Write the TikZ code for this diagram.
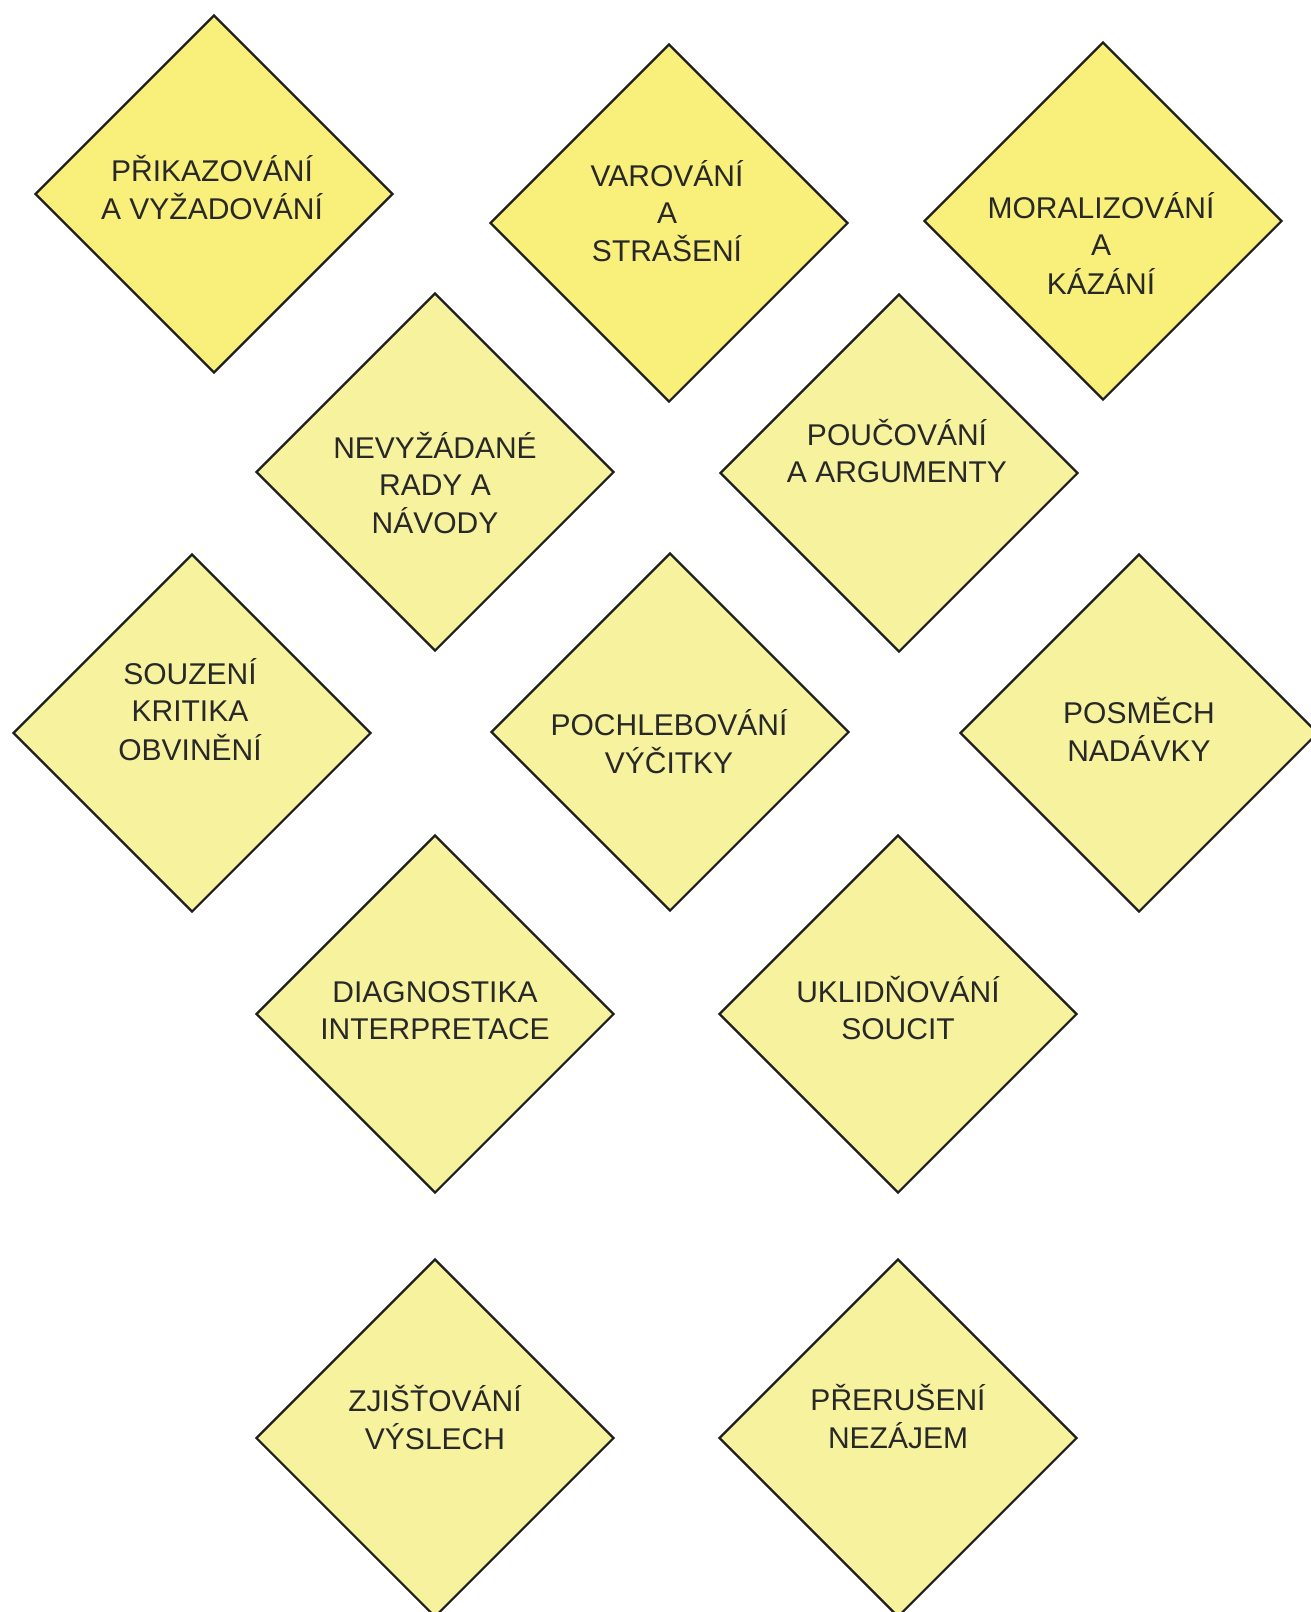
\documentclass[tikz,border=0pt]{standalone}
\usepackage{fontspec}
\setmainfont{Liberation Sans}
\usetikzlibrary{shapes.geometric}
\definecolor{fillA}{RGB}{248,240,122}
\definecolor{fillB}{RGB}{247,242,158}
\definecolor{edgec}{RGB}{30,30,30}
\definecolor{txtc}{RGB}{40,40,40}
\tikzset{
  dia/.style={diamond, draw=edgec, line width=2.2pt, minimum width=358pt, minimum height=358pt, inner sep=0pt, aspect=1},
  diaA/.style={dia, fill=fillA},
  diaB/.style={dia, fill=fillB},
  lbl/.style={align=center, inner sep=0pt, text=txtc, font=\fontsize{30}{37}\selectfont}
}
\begin{document}
\begin{tikzpicture}[x=1pt,y=-1pt]
\useasboundingbox (0,0) rectangle (1311,1612);
\fill[white] (0,0) rectangle (1311,1612);
% diamonds
\node[diaA] (d1) at (214,194) {};
\node[diaA] (d2) at (669,223) {};
\node[diaA] (d3) at (1103,221) {};
\node[diaB] (d4) at (435,472) {};
\node[diaB] (d5) at (899,473) {};
\node[diaB] (d6) at (192,733) {};
\node[diaB] (d7) at (670,732) {};
\node[diaB] (d8) at (1139,733) {};
\node[diaB] (d9) at (435,1014) {};
\node[diaB] (d10) at (898,1014) {};
\node[diaB] (d11) at (435,1438) {};
\node[diaB] (d12) at (898,1438) {};
% labels
\node[lbl] (t1) at (212,192.6) {\strut PŘIKAZOVÁNÍ\\\strut A VYŽADOVÁNÍ};
\node[lbl] (t2) at (667,216.6) {\strut VAROVÁNÍ\\\strut A\\\strut STRAŠENÍ};
\node[lbl] (t3) at (1101,249) {\strut MORALIZOVÁNÍ\\\strut A\\\strut KÁZÁNÍ};
\node[lbl] (t4) at (435,488) {\strut NEVYŽÁDANÉ\\\strut RADY A\\\strut NÁVODY};
\node[lbl] (t5) at (897,456.6) {\strut POUČOVÁNÍ\\\strut A ARGUMENTY};
\node[lbl] (t6) at (190,715) {\strut SOUZENÍ\\\strut KRITIKA\\\strut OBVINĚNÍ};
\node[lbl] (t7) at (669,747) {\strut POCHLEBOVÁNÍ\\\strut VÝČITKY};
\node[lbl] (t8) at (1139,735) {\strut POSMĚCH\\\strut NADÁVKY};
\node[lbl] (t9) at (435,1014) {\strut DIAGNOSTIKA\\\strut INTERPRETACE};
\node[lbl] (t10) at (898,1013) {\strut UKLIDŇOVÁNÍ\\\strut SOUCIT};
\node[lbl] (t11) at (435,1422.6) {\strut ZJIŠŤOVÁNÍ\\\strut VÝSLECH};
\node[lbl] (t12) at (898,1422) {\strut PŘERUŠENÍ\\\strut NEZÁJEM};
\end{tikzpicture}
\end{document}
